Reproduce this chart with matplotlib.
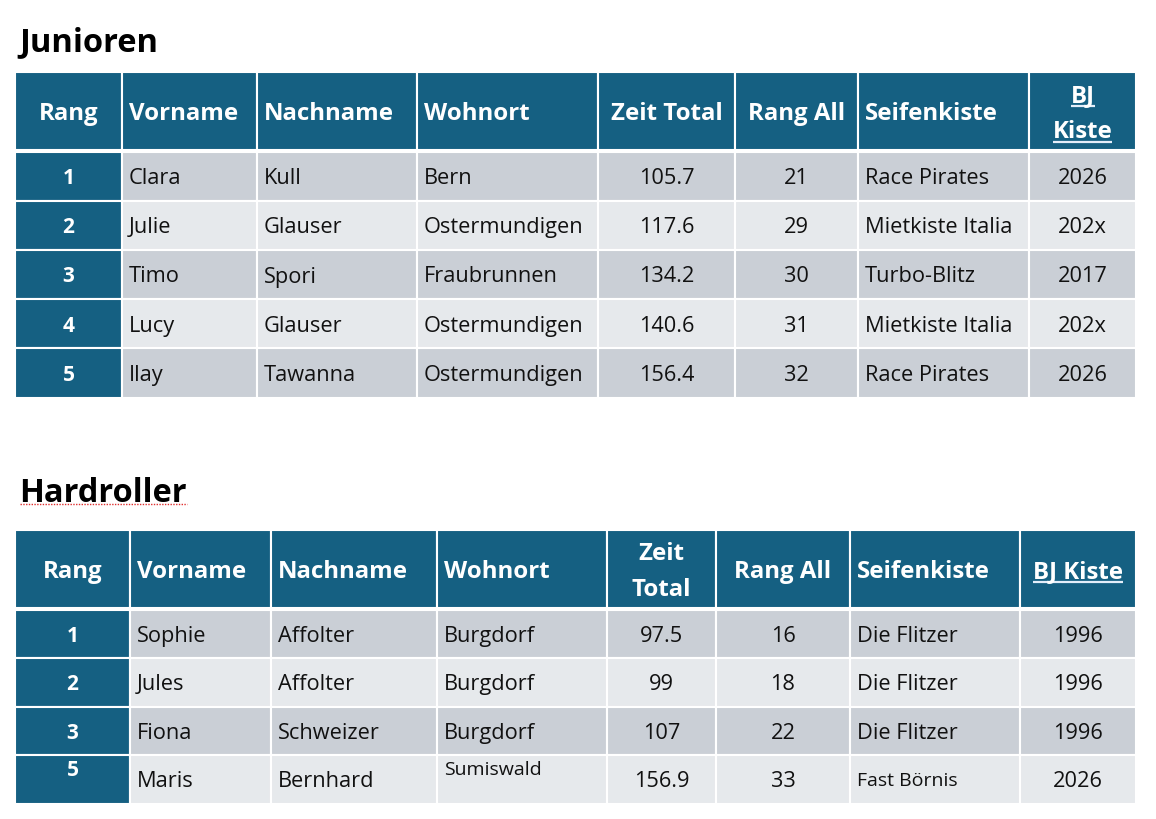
import matplotlib.pyplot as plt
from matplotlib.patches import Rectangle

plt.rcParams['font.family'] = ['Open Sans', 'DejaVu Sans']

# Junioren table
jun_headers = ["Rang", "Vorname", "Nachname", "Wohnort", "Zeit Total", "Rang All", "Seifenkiste", "BJ\nKiste"]
jun_rang = ["1", "2", "3", "4", "5"]
jun_vorname = ["Clara", "Julie", "Timo", "Lucy", "Ilay"]
jun_nachname = ["Kull", "Glauser", "Spori", "Glauser", "Tawanna"]
jun_wohnort = ["Bern", "Ostermundigen", "Fraubrunnen", "Ostermundigen", "Ostermundigen"]
jun_zeit = ["105.7", "117.6", "134.2", "140.6", "156.4"]
jun_rang_all = ["21", "29", "30", "31", "32"]
jun_kiste = ["Race Pirates", "Mietkiste Italia", "Turbo-Blitz", "Mietkiste Italia", "Race Pirates"]
jun_bj = ["2026", "202x", "2017", "202x", "2026"]

# Hardroller table
hard_headers = ["Rang", "Vorname", "Nachname", "Wohnort", "Zeit\nTotal", "Rang All", "Seifenkiste", "BJ Kiste"]
hard_rang = ["1", "2", "3", "5"]
hard_vorname = ["Sophie", "Jules", "Fiona", "Maris"]
hard_nachname = ["Affolter", "Affolter", "Schweizer", "Bernhard"]
hard_wohnort = ["Burgdorf", "Burgdorf", "Burgdorf", "Sumiswald"]
hard_zeit = ["97.5", "99", "107", "156.9"]
hard_rang_all = ["16", "18", "22", "33"]
hard_kiste = ["Die Flitzer", "Die Flitzer", "Die Flitzer", "Fast Börnis"]
hard_bj = ["1996", "1996", "1996", "2026"]

# layout (pixels)
W, H = 1156, 819
BLUE = '#156082'
DARK = '#cacfd6'
LIGHT = '#e6e9ec'
aligns = ['center', 'left', 'left', 'left', 'center', 'center', 'left', 'center']

fig = plt.figure(figsize=(W / 100, H / 100), dpi=100)
ax = fig.add_axes([0, 0, 1, 1])
ax.set_xlim(0, W)
ax.set_ylim(H, 0)
ax.axis('off')
renderer = fig.canvas.get_renderer()


def underline(t):
    bb = t.get_window_extent(renderer)
    inv = ax.transData.inverted()
    (x0, y0), (x1, y1) = inv.transform([(bb.x0, bb.y0), (bb.x1, bb.y0)])
    ax.plot([x0, x1], [y0 - 2, y1 - 2], color='#e4eefa', lw=1.6, solid_capstyle='butt')


def draw_table(edges, top, head_h, row_h, headers, columns, underline_col, special=None):
    special = special or {}
    nrows = len(columns[0])
    # header
    for j in range(len(headers)):
        x0, x1 = edges[j], edges[j + 1]
        ax.add_patch(Rectangle((x0, top), x1 - x0, head_h, fc=BLUE, ec='white', lw=1.5))
        lines = headers[j].split("\n")
        cy = top + head_h / 2
        for k, line in enumerate(lines):
            y = cy + (k - (len(lines) - 1) / 2) * 36
            if aligns[j] == 'center':
                x, ha = (x0 + x1) / 2, 'center'
            else:
                x, ha = x0 + 7, 'left'
            t = ax.text(x, y, line, ha=ha, va='center_baseline', color='white', fontsize=17.3, fontweight='bold')
            if j == underline_col:
                underline(t)
    # body
    btop = top + head_h + 1.5
    for i in range(nrows):
        y0 = btop + i * row_h
        for j in range(len(columns)):
            x0, x1 = edges[j], edges[j + 1]
            fc = BLUE if j == 0 else (DARK if i % 2 == 0 else LIGHT)
            ax.add_patch(Rectangle((x0, y0), x1 - x0, row_h, fc=fc, ec='white', lw=1.5))
            size, dy = 15.7, 0
            if (i, j) in special:
                size, dy = special[(i, j)]
            yc = y0 + row_h / 2 + dy
            if j == 0:
                ax.text((x0 + x1) / 2, yc, columns[j][i], ha='center', va='center_baseline',
                        color='white', fontsize=15, fontweight='bold')
            elif aligns[j] == 'center':
                ax.text((x0 + x1) / 2, yc, columns[j][i], ha='center', va='center_baseline',
                        color='#111111', fontsize=size)
            else:
                ax.text(x0 + 7, yc, columns[j][i], ha='left', va='center_baseline',
                        color='#111111', fontsize=size)


ax.text(19, 39, "Junioren", ha='left', va='center_baseline', fontsize=23.5, fontweight='bold', color='black')
draw_table([15, 122, 257, 417, 598, 735, 858, 1029, 1136], 72, 78, 49.2, jun_headers,
           [jun_rang, jun_vorname, jun_nachname, jun_wohnort, jun_zeit, jun_rang_all, jun_kiste, jun_bj], 7)

ax.text(19, 489, "Hardroller", ha='left', va='center_baseline', fontsize=23.5, fontweight='bold', color='black')
ax.plot([20, 187], [504, 504], color='#e03030', lw=1, ls=(0, (1, 1)))
draw_table([15, 130, 271, 437, 607, 716, 850, 1020, 1136], 530, 78, 48.5, hard_headers,
           [hard_rang, hard_vorname, hard_nachname, hard_wohnort, hard_zeit, hard_rang_all, hard_kiste, hard_bj], 7,
           special={(3, 0): (15, -11), (3, 3): (14, -11), (3, 6): (14, 0)})

fig.savefig('out.png', dpi=100)
